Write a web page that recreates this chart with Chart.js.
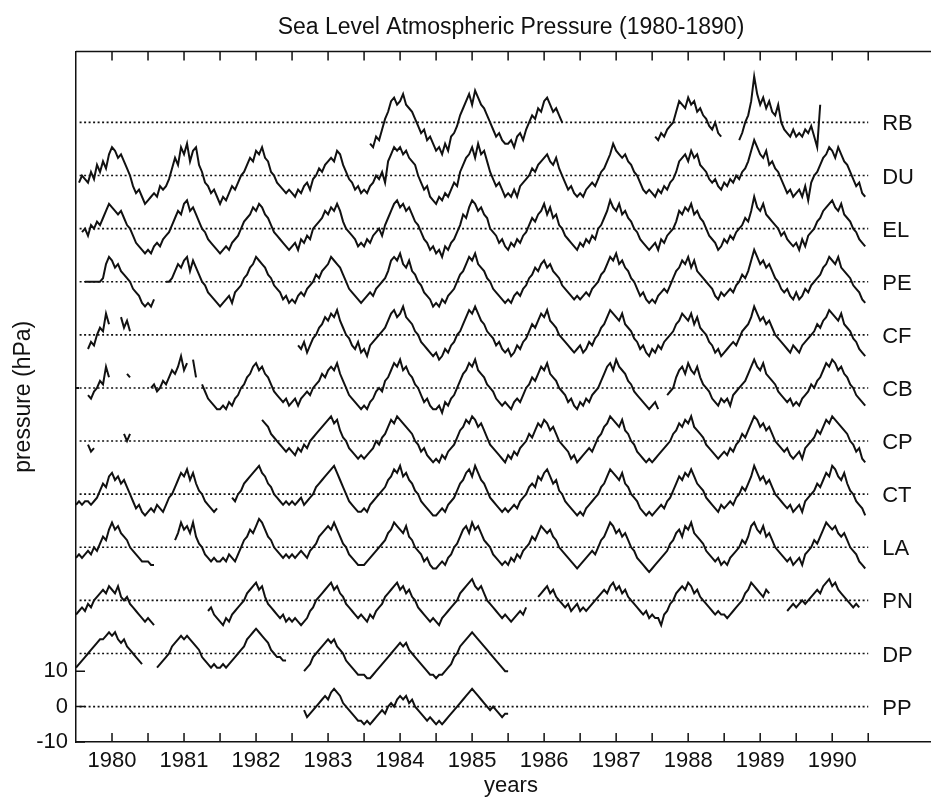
<!DOCTYPE html>
<html>
<head>
<meta charset="utf-8">
<title>Sea Level Atmospheric Pressure</title>
<script src="https://cdn.jsdelivr.net/npm/chart.js@4.4.1/dist/chart.umd.min.js"></script>
<style>
    html, body { margin: 0; padding: 0; background: #fff; overflow: hidden; }
    .canvas-wrapper { position: relative; width: 946px; height: 800px; }
</style>
</head>
<body>
<div class="canvas-wrapper"><canvas id="chart"></canvas></div>
<script>
// half-monthly pressure anomalies (hPa), 24 values per year, null = no data
const rbValues = [
    null,null,-6,-7,-4,-5,-2,1,3,6,7,5,6,8,5,4,3,1,-1,-3,-2,-5,-4,-6,   // 1984
    -8,-7,-9,-6,-8,-4,-3,-1,2,4,6,8,5,9,7,5,4,2,0,-2,-4,-3,-5,-6,
    -6,-5,-7,-4,-3,-5,-2,0,2,1,4,3,6,7,5,3,4,2,0,null,null,null,null,null,
    null,null,null,null,null,null,null,null,null,null,null,null,null,null,null,null,null,null,null,null,null,null,null,null,
    null,-4,-5,-3,-4,-2,-1,0,3,6,5,4,7,5,6,3,4,2,1,-1,-2,0,-3,-4,
    null,null,null,null,null,-5,-3,0,2,6,13,8,5,7,4,6,3,2,5,0,-2,-3,-4,-2,
    -4,-3,-4,-2,-3,-1,-4,-7,5
];
const duValues = [
    null,-2,0,-1,-2,1,-1,3,1,4,2,6,8,7,5,6,4,2,0,-3,-5,-4,-6,-8,       // 1980
    -7,-6,-5,-6,-3,-4,-3,-1,2,5,3,8,6,9,4,7,8,3,1,-2,-3,-5,-4,-6,
    -8,-6,-7,-5,-3,-4,-2,0,1,3,5,4,7,6,8,5,4,1,0,-2,-3,-4,-5,-4,
    -5,-6,-4,-5,-3,-2,-4,-1,0,2,1,3,4,5,4,7,6,3,1,-1,-2,-4,-3,-5,
    -4,-5,-3,-2,0,-1,1,-2,4,6,8,7,8,6,7,5,4,3,0,-2,-4,-3,-6,-7,
    -8,-6,-7,-5,-6,-4,-2,-3,1,3,5,6,8,5,9,6,7,4,1,-1,-3,-2,-4,-6,
    -5,-6,-4,-6,-3,-2,-1,0,2,1,3,4,5,6,4,3,5,2,0,-2,-4,-3,-5,-6,
    -5,-6,-4,-3,-2,-3,-1,1,2,4,6,9,7,6,5,6,4,3,1,0,-2,-4,-5,-4,
    -5,-6,-4,-5,-3,-4,-2,-1,1,4,5,6,4,7,5,6,3,2,1,-1,-2,-1,-3,-4,
    -2,-3,-1,-2,0,-1,1,2,4,7,10,8,6,5,7,3,4,2,1,-1,-3,-5,-4,-6,
    -5,-4,-6,-3,-7,-2,0,1,3,5,6,8,7,5,8,6,4,3,1,-1,-3,-2,-5,-6
];
const elValues = [
    null,null,-1,0,-2,1,0,2,1,3,5,7,6,5,4,5,3,1,0,-2,-4,-5,-6,-7,
    -6,-7,-5,-4,-5,-3,-2,-1,1,3,5,4,7,8,5,6,4,2,0,-1,-3,-4,-5,-6,
    -7,-6,-5,-6,-4,-3,-2,0,2,3,4,6,5,7,6,4,3,1,-1,-2,-3,-4,-5,-6,
    -5,-4,-6,-3,-4,-2,-3,0,1,2,3,5,4,6,5,7,5,2,0,-1,-2,-3,-5,-4,
    -5,-3,-4,-2,-1,0,-2,1,3,5,7,8,6,7,5,6,4,2,1,-1,-3,-4,-6,-5,
    -7,-6,-8,-5,-6,-4,-3,-1,1,4,3,6,8,7,5,6,4,3,0,-1,-2,-4,-3,-5,
    -6,-4,-5,-3,-4,-2,-1,1,3,2,4,5,7,4,6,3,4,1,0,-2,-3,-4,-5,-6,
    -4,-5,-3,-4,-2,-3,0,1,3,5,8,6,5,7,4,5,3,2,0,-1,-3,-4,-5,-6,
    -5,-4,-6,-3,-4,-2,-1,0,2,5,4,6,5,7,4,5,3,2,0,-2,-3,-4,-6,-5,
    -3,-4,-2,-3,-1,0,1,3,2,5,9,6,5,7,4,3,2,1,0,-2,-1,-3,-4,-5,
    -4,-6,-3,-5,-2,-1,0,2,3,5,6,7,8,6,5,7,4,3,2,0,-1,-3,-4,-5
];
const peValues = [
    null,null,null,0,0,0,0,0,0,1,5,7,6,4,5,3,2,1,0,-2,-3,-4,-6,-7,
    -6,-7,-5,null,null,null,0,0,1,3,5,4,6,7,3,6,4,2,0,-1,-3,-4,-5,-6,
    -7,-6,-5,-4,-6,-3,-2,-1,1,2,4,5,7,6,5,4,2,1,-1,-2,-3,-5,-4,-6,
    -5,-6,-4,-3,-4,-2,-1,0,2,1,3,4,5,7,6,5,4,2,0,-2,-3,-4,-5,-6,
    -5,-4,-3,-4,-2,-1,0,1,3,6,7,6,8,5,4,6,3,2,0,-1,-3,-4,-5,-7,
    -6,-7,-5,-6,-4,-3,-2,0,2,3,5,7,6,8,5,4,3,1,0,-2,-3,-4,-5,-6,
    -5,-6,-4,-3,-4,-2,-1,1,2,4,3,5,6,4,5,3,2,1,-1,-2,-3,-4,-5,-4,
    -5,-4,-3,-4,-2,-1,0,2,3,5,7,6,8,5,6,4,3,1,0,-2,-4,-3,-5,-6,
    -5,-6,-4,-3,-2,-3,-1,1,3,4,6,5,7,4,6,3,2,1,0,-1,-2,-4,-5,-3,
    -4,-3,-2,-3,-1,0,2,1,3,6,9,7,5,6,4,5,3,1,0,-2,-3,-2,-4,-5,
    -3,-5,-4,-2,-3,-1,0,1,2,4,5,7,6,5,7,4,3,2,1,-1,-2,-3,-5,-6
];
const cfValues = [
    null,null,null,null,-4,-2,-3,0,2,1,6,3,null,null,null,5,2,4,1,null,null,null,null,null,
    null,null,null,null,null,null,null,null,null,null,null,null,null,null,null,null,null,null,null,null,null,null,null,null,
    null,null,null,null,null,null,null,null,null,null,null,null,null,null,null,null,null,null,null,null,null,null,null,null,
    null,null,-3,-4,-2,-5,-3,-1,0,2,3,5,4,6,5,7,4,2,0,-1,-3,-4,-2,-5,
    -4,-6,-3,-2,-1,0,1,2,4,6,7,5,6,8,5,4,3,1,0,-2,-3,-4,-5,-6,
    -5,-7,-6,-4,-5,-3,-2,0,1,3,5,7,6,8,6,4,3,1,0,-1,-3,-2,-4,-5,
    -4,-6,-5,-3,-4,-2,-1,1,3,2,4,6,5,7,4,3,2,0,-1,-2,-3,-4,-5,-4,
    -3,-5,-4,-2,-3,-1,0,2,3,5,7,6,5,4,6,3,2,1,-1,-2,-4,-3,-5,-6,
    -4,-5,-3,-4,-2,-1,0,1,3,4,6,5,4,6,3,5,2,1,0,-2,-3,-5,-4,-6,
    -5,-4,-3,-2,-3,-1,1,2,3,5,8,6,4,5,3,4,2,0,-1,-2,-3,-4,-5,-3,
    -4,-5,-3,-2,-1,0,1,3,2,4,5,7,6,5,4,6,3,2,1,-1,-2,-4,-5,-6
];
const cbValues = [
    0,0,null,null,-2,-3,-1,0,2,1,6,3,null,null,null,null,null,4,3,null,null,null,null,null,
    null,0,1,-1,0,2,1,3,5,4,6,9,5,7,null,8,3,null,1,-1,-3,-4,-5,-6,
    -6,-5,-6,-4,-5,-3,-2,0,1,3,4,6,7,5,6,4,3,1,-1,-2,-3,-4,-3,-5,
    -4,-3,-5,-3,-2,-1,-2,0,1,2,4,3,5,6,5,7,4,2,0,-2,-3,-4,-5,-6,
    -5,-6,-4,-3,-1,0,-1,2,3,5,7,6,8,5,6,4,3,1,0,-2,-4,-3,-5,-6,
    -6,-5,-7,-4,-5,-3,-2,0,2,4,5,7,6,8,5,4,3,1,0,-1,-3,-4,-5,-4,
    -5,-6,-4,-3,-4,-2,0,1,3,2,4,6,5,7,4,3,2,0,-1,-2,-4,-3,-5,-6,
    -4,-5,-3,-4,-2,-1,0,2,4,6,7,5,8,6,5,4,2,1,-1,-2,-3,-4,-5,-6,
    -5,-4,-6,null,null,-2,-1,0,3,5,6,4,7,5,4,6,3,1,0,-1,-3,-4,-5,-3,
    -4,-3,-5,-2,-1,0,1,2,4,6,8,6,5,7,4,3,2,1,-1,-2,-3,-4,-3,-5,
    -4,-5,-3,-2,-1,1,0,2,3,5,7,6,8,7,5,6,4,3,1,0,-2,-3,-4,-5
];
const cpValues = [
    null,null,null,null,-1,-3,-2,null,null,null,null,null,null,null,null,null,2,0,2,null,null,null,null,null,
    null,null,null,null,null,null,null,null,null,null,null,null,null,null,null,null,null,null,null,null,null,null,null,null,
    null,null,null,null,null,null,null,null,null,null,null,null,null,null,6,5,4,2,1,0,-1,-2,-3,-2,
    -3,-4,-2,-3,-1,-2,0,1,2,3,4,5,6,7,5,6,3,1,0,-2,-3,-4,-5,-4,
    -5,-4,-3,-2,0,-1,1,2,4,6,5,7,6,5,4,3,2,0,-1,-3,-2,-4,-5,-6,
    -5,-6,-4,-5,-3,-2,-1,1,3,4,6,5,7,6,4,5,3,1,-1,-2,-3,-4,-5,-6,
    -4,-5,-3,-4,-2,-1,0,2,1,3,5,4,6,5,3,4,2,0,-1,-2,-3,-5,-4,-6,
    -5,-4,-3,-2,-3,-1,1,2,4,5,7,6,5,4,6,3,2,0,-1,-3,-4,-5,-6,-5,
    -6,-5,-4,-3,-2,-1,0,2,3,5,4,6,5,7,4,3,2,1,-1,-2,-3,-4,-5,-4,
    -3,-4,-2,-3,-1,0,2,1,3,5,7,6,4,5,3,4,2,0,-1,-2,-3,-2,-4,-5,
    -4,-3,-5,-2,-1,0,1,3,2,4,6,5,7,6,5,4,3,2,0,-1,-3,-2,-5,-6
];
const ctValues = [
    -3,-2,-3,-2,-2,-3,-2,-1,1,3,2,5,6,4,5,3,4,2,0,-2,-4,-3,-5,-6,
    -5,-4,-5,-3,-4,-5,-3,-1,0,2,4,6,5,7,4,6,3,1,0,-2,-3,-4,-5,-4,
    null,null,null,null,-1,-2,0,1,3,4,5,6,7,8,6,5,3,2,0,-1,-2,-3,-2,-3,
    -2,-3,-2,-1,-3,-2,-1,0,2,3,4,5,6,7,8,6,4,2,0,-2,-3,-4,-5,-5,
    -4,-5,-3,-2,-1,0,1,2,4,5,7,6,8,5,6,4,3,1,0,-2,-3,-4,-5,-6,
    -6,-5,-4,-5,-3,-2,-1,1,3,4,6,7,5,8,6,4,3,1,-1,-2,-3,-4,-5,-4,
    -5,-4,-3,-4,-2,-1,0,2,3,2,5,4,6,7,5,3,4,1,0,-2,-3,-4,-5,-6,
    -5,-6,-4,-3,-2,-1,0,2,3,5,7,6,5,4,6,3,2,0,-1,-2,-4,-5,-6,-5,
    -6,-5,-4,-3,-4,-2,-1,1,3,5,4,6,5,7,5,3,2,1,-1,-2,-3,-4,-5,-3,
    -4,-3,-2,-3,-1,0,2,1,3,5,8,6,4,5,3,4,2,0,-1,-2,-3,-4,-3,-5,
    -4,-3,-5,-2,-1,0,1,3,2,4,6,5,8,7,5,4,6,3,1,0,-2,-3,-4,-6
];
const laValues = [
    -3,-2,-3,-2,-1,-2,0,-1,1,3,2,5,7,5,6,4,3,2,0,-1,-2,-3,-4,-4,
    -4,-5,-5,null,null,null,null,null,null,2,4,7,5,6,4,7,3,1,0,-2,-3,-4,-3,-4,
    -4,-3,-4,-2,-3,-4,-2,0,2,3,5,4,6,8,7,5,3,2,0,-1,-2,-3,-2,-3,
    -2,-3,-2,-1,-2,-3,-1,0,1,3,4,5,6,5,7,5,3,1,0,-2,-3,-4,-5,-5,
    -5,-4,-3,-2,-1,0,1,2,4,5,7,6,5,4,6,3,2,0,-1,-2,-4,-3,-5,-6,
    -6,-5,-4,-5,-3,-2,0,1,3,5,6,4,7,5,6,4,2,1,0,-2,-3,-4,-5,-4,
    -5,-3,-4,-2,-3,-1,0,1,3,2,4,6,5,4,5,3,2,0,-1,-2,-3,-4,-5,-6,
    -5,-4,-3,-2,-1,-2,0,2,3,5,7,6,4,5,3,4,2,0,-1,-3,-4,-5,-6,-7,
    -6,-5,-4,-3,-2,-1,1,2,4,5,3,6,5,7,4,3,2,1,-1,-2,-3,-4,-3,-5,
    -4,-5,-3,-2,-1,0,2,1,3,6,7,5,4,6,3,4,2,0,-1,-2,-3,-4,-3,-5,
    -4,-3,-5,-2,-1,0,2,1,3,5,7,6,5,6,4,3,4,2,0,-1,-2,-4,-5,-6
];
const pnValues = [
    -4,-3,-2,-3,-1,-2,0,1,2,3,2,4,3,2,4,1,0,1,-1,-2,-3,-4,-5,-6,
    -5,-6,-7,null,null,null,null,null,null,null,null,null,null,null,null,null,null,null,null,null,-3,-2,-4,-5,
    -6,-7,-5,-6,-4,-3,-2,-1,0,2,3,4,5,3,4,1,-1,-2,-3,-4,-5,-4,-6,-5,
    -6,-5,-6,-7,-6,-5,-3,-2,0,1,2,3,4,5,3,4,2,1,-1,-2,-3,-4,-5,-4,
    -5,-6,-4,-5,-3,-2,-1,1,2,3,4,5,3,4,2,3,1,0,-2,-3,-4,-5,-6,-5,
    -6,-7,-5,-4,-3,-2,-1,0,2,3,4,5,6,4,3,4,2,0,-1,-2,-3,-4,-5,-4,
    -5,-6,-5,-4,-3,-4,-2,null,null,null,1,2,3,4,2,3,1,0,-1,-2,-1,-3,-2,-1,
    -3,-2,-3,-2,-1,0,1,2,3,2,4,5,3,4,2,3,1,0,-1,-2,-3,-4,-3,-5,
    -4,-5,-5,-7,-4,-3,-1,0,2,3,4,3,5,4,2,3,1,0,-1,-2,-3,-4,-3,-4,
    -4,-5,-4,-3,-2,-1,0,2,3,5,4,3,2,1,3,2,null,null,null,null,null,-3,-2,-1,
    -2,-1,0,-1,0,1,2,3,2,4,5,6,4,5,3,2,1,0,-1,-2,-1,-2,null,null
];
const dpValues = [
    -4,-3,-2,-1,0,1,2,3,4,4,5,6,5,6,4,3,4,2,1,0,-1,-2,-3,null,
    null,null,null,-4,-3,-2,-1,0,2,3,4,5,4,5,4,3,2,1,-1,-2,-3,-4,-3,-4,
    -4,-3,-4,-3,-2,-1,0,1,2,4,5,6,7,6,5,4,3,1,0,-1,-1,-2,-2,null,
    null,null,null,null,-5,-4,-3,-1,0,1,2,3,4,3,4,2,1,0,-2,-3,-4,-5,-6,-6,
    -6,-7,-7,-6,-5,-4,-3,-2,-1,0,1,2,3,2,3,1,0,-1,-2,-3,-4,-5,-6,-6,
    -7,-6,-6,-5,-4,-3,-1,0,2,3,4,5,6,5,4,3,2,1,0,-1,-2,-3,-4,-5,
    -5
];
const ppValues = [
    null,null,null,null,-1,-3,-2,-1,0,1,2,3,2,4,5,4,3,1,0,-1,-2,-3,-4,-4,   // 1983
    -5,-4,-5,-4,-3,-2,-1,-2,0,1,0,2,3,2,3,1,2,0,-1,-2,-3,-4,-3,-4,
    -5,-4,-5,-4,-3,-2,-1,0,1,2,3,4,5,4,3,2,1,0,-1,0,-1,-2,-3,-2,
    -2
];

const stationNames = ["RB", "DU", "EL", "PE", "CF", "CB", "CP", "CT", "LA", "PN", "DP", "PP"];
const stationOffsets = [165, 150, 135, 120, 105, 90, 75, 60, 45, 30, 15, 0];
const stationStarts = [1984, 1980, 1980, 1980, 1980, 1980, 1980, 1980, 1980, 1980, 1980, 1983];
const stationValues = [rbValues, duValues, elValues, peValues, cfValues, cbValues,
    cpValues, ctValues, laValues, pnValues, dpValues, ppValues];

const yearLabels = ["1980", "1981", "1982", "1983", "1984", "1985", "1986", "1987", "1988", "1989", "1990"];
const yTickValues = [-10, 0, 10];

const STEPS_PER_YEAR = 24;
const BASE_FROM = 1980.05;
const BASE_TO = 1991;
const X_MIN = 1980;
const X_MAX = 1992.08;
const INK = "#111";
const FONT_FAMILY = "'Liberation Sans', Arial, Helvetica, sans-serif";

// tick marks every half year, year label sits mid-year
const xTickValues = [];
yearLabels.forEach((label) => {
    const year = Number(label);
    xTickValues.push(year + 0.5, year + 1);
});

const toPoints = (values, start, offset) => values.map((v, i) => ({
    x: start + i / STEPS_PER_YEAR,
    y: v === null ? null : v + offset
}));

const datasets = [];
stationNames.forEach((name, i) => {
    datasets.push({
        label: name + " mean",
        data: [{ x: BASE_FROM, y: stationOffsets[i] }, { x: BASE_TO, y: stationOffsets[i] }],
        borderColor: INK,
        borderWidth: 1.6,
        borderDash: [2, 2.5],
        pointRadius: 0,
        order: 2
    });
    datasets.push({
        label: name,
        data: toPoints(stationValues[i], stationStarts[i], stationOffsets[i]),
        borderColor: INK,
        borderWidth: 2,
        pointRadius: 0,
        spanGaps: false,
        order: 1
    });
});

// inward ticks, top frame line and station names
const framePlugin = {
    id: "frame",
    afterDraw(chart) {
        const { ctx, chartArea, scales } = chart;
        const { left, right, top, bottom } = chartArea;
        ctx.save();
        ctx.strokeStyle = INK;
        ctx.lineWidth = 1.5;
        ctx.beginPath();
        ctx.moveTo(left, top);
        ctx.lineTo(right, top);
        scales.x.ticks.forEach((t) => {
            const px = scales.x.getPixelForValue(t.value);
            ctx.moveTo(px, bottom);
            ctx.lineTo(px, bottom - 9);
            ctx.moveTo(px, top);
            ctx.lineTo(px, top + 9);
        });
        scales.y.ticks.forEach((t) => {
            const py = scales.y.getPixelForValue(t.value);
            ctx.moveTo(left, py);
            ctx.lineTo(left + 9, py);
        });
        ctx.stroke();

        ctx.fillStyle = INK;
        ctx.font = "22px " + FONT_FAMILY;
        ctx.textAlign = "left";
        ctx.textBaseline = "middle";
        const labelX = scales.x.getPixelForValue(BASE_TO) + 14;
        stationNames.forEach((name, i) => {
            ctx.fillText(name, labelX, scales.y.getPixelForValue(stationOffsets[i]) + 2);
        });
        ctx.restore();
    }
};

Chart.defaults.font.family = FONT_FAMILY;
Chart.defaults.color = INK;

new Chart(document.getElementById("chart").getContext("2d"), {
    type: "line",
    data: { datasets },
    options: {
        responsive: true,
        maintainAspectRatio: false,
        animation: false,
        layout: { padding: 0 },
        plugins: {
            legend: { display: false },
            tooltip: { enabled: false },
            title: {
                display: true,
                text: "Sea Level Atmospheric Pressure (1980-1890)",
                fullSize: false,
                color: INK,
                font: { size: 23, weight: "normal", lineHeight: 1.2 },
                padding: { top: 14, bottom: 10 }
            }
        },
        scales: {
            x: {
                type: "linear",
                min: X_MIN,
                max: X_MAX,
                grid: { display: false, drawTicks: false },
                border: { display: true, color: INK, width: 1.5 },
                afterBuildTicks: (scale) => { scale.ticks = xTickValues.map((v) => ({ value: v })); },
                afterFit: (scale) => { scale.height = 58; },
                ticks: {
                    autoSkip: false,
                    maxRotation: 0,
                    padding: 6,
                    color: INK,
                    font: { size: 22 },
                    callback: (value) => Number.isInteger(value) ? "" : yearLabels[Math.floor(value) - X_MIN]
                },
                title: {
                    display: true,
                    text: "years",
                    color: INK,
                    font: { size: 22, lineHeight: 1 },
                    padding: { top: 0, bottom: 3 }
                }
            },
            y: {
                min: -10,
                max: 185,
                grid: { display: false, drawTicks: false },
                border: { display: true, color: INK, width: 1.5 },
                afterBuildTicks: (scale) => { scale.ticks = yTickValues.map((v) => ({ value: v })); },
                afterFit: (scale) => { scale.width = 76; },
                ticks: {
                    padding: 8,
                    color: INK,
                    font: { size: 22 }
                },
                title: {
                    display: true,
                    text: "pressure (hPa)",
                    color: INK,
                    font: { size: 23, lineHeight: 1 },
                    padding: { top: 12, bottom: 0 }
                }
            }
        }
    },
    plugins: [framePlugin]
});
</script>
</body>
</html>
